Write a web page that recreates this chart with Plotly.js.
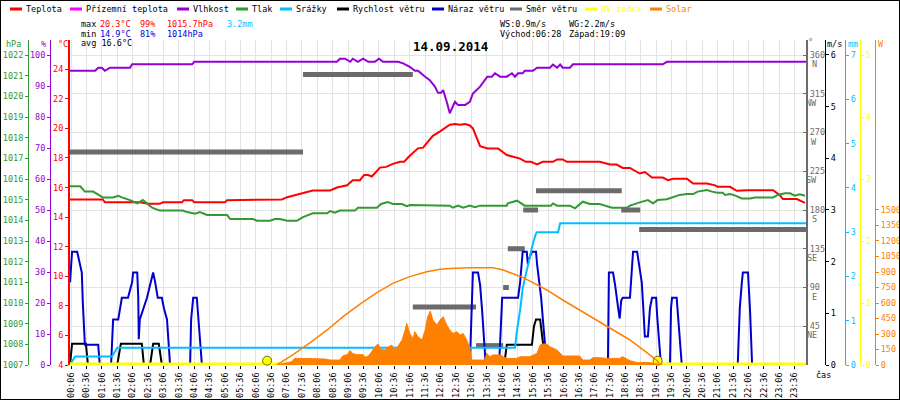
<!DOCTYPE html>
<html><head><meta charset="utf-8">
<script src="https://cdn.plot.ly/plotly-3.0.1.min.js"></script>
<style>html,body{margin:0;padding:0;background:#fff}#chart{width:900px;height:400px}</style>
</head><body><div id="chart"></div>
<script>
const DAY = '2014-09-14 ';

// Teplota (°C)
const tempTimes = ['00:04','01:08','01:12','02:20','02:36','02:59','03:05','03:42','03:46','04:02','04:06','05:06','05:10','06:28','06:34','06:57','07:07','07:32','07:46','07:57','08:31','08:44','09:04','09:15','09:29','09:37','09:45','09:52','10:08','10:20','10:33','10:47','10:55','11:06','11:22','11:32','11:39','11:51','12:05','12:18','12:24','12:34','12:44','12:54','13:03','13:09','13:23','13:38','13:58','14:15','14:41','14:52','15:02','15:14','15:25','15:45','15:53','16:04','16:12','17:16','17:36','17:49','18:01','18:15','18:34','18:44','18:58','19:19','19:29','19:39','20:06','20:18','20:45','21:01','21:06','21:30','21:43','22:03','22:54','23:07','23:13','23:40','23:56'];
const tempValues = [15.2,15.2,15.0,15.0,14.9,14.9,15.0,15.0,15.15,15.15,15.0,15.0,15.15,15.15,15.2,15.2,15.35,15.6,15.7,15.8,15.8,16.0,16.15,16.5,16.5,16.85,16.85,16.75,17.35,17.4,17.6,17.75,17.75,18.15,18.65,18.7,19.0,19.5,19.8,20.15,20.25,20.3,20.25,20.3,20.2,20.0,18.8,18.64,18.64,18.2,17.96,17.74,17.74,17.56,17.74,17.74,17.9,17.9,17.74,17.74,17.56,17.56,17.33,17.33,16.95,17.05,16.68,16.68,16.5,16.6,16.6,16.27,16.27,16.15,16.05,16.05,15.78,15.82,15.82,15.49,15.22,15.22,14.97];

// Vlhkost (%)
const humTimes = ['00:04','00:53','00:59','01:06','01:12','01:22','02:01','02:05','04:02','04:06','08:44','08:50','09:00','09:10','09:15','09:25','09:35','09:45','09:58','10:06','10:14','10:43','10:53','11:06','11:16','11:22','11:36','11:45','11:55','12:01','12:07','12:11','12:18','12:24','12:34','12:40','12:54','13:03','13:09','13:23','13:37','13:46','13:52','14:02','14:15','14:25','14:31','14:37','14:46','14:50','15:06','15:14','15:39','15:45','15:53','15:59','16:04','16:18','16:24','19:19','19:27','23:58'];
const humValues = [94.9,94.9,95.9,95.9,94.9,95.9,95.9,97.0,97.0,97.8,97.8,98.8,98.8,97.8,98.8,97.8,98.8,97.8,97.8,98.8,97.8,97.8,97.3,96.2,94.9,94.9,93.0,91.9,89.8,87.8,87.8,88.7,84.9,81.2,84.9,83.9,83.9,84.9,87.6,89.8,93.0,93.0,94.1,93.0,93.0,94.1,93.0,94.1,94.1,94.9,94.9,95.9,95.9,96.9,95.9,96.9,95.9,95.9,97.0,97.0,97.8,97.8];

// Tlak (hPa)
const presTimes = ['00:04','00:24','00:33','00:49','00:59','01:08','01:28','01:38','01:45','02:01','02:15','02:26','02:34','02:44','02:59','03:44','03:52','04:08','04:17','04:31','05:10','05:16','06:01','06:08','06:34','06:43','06:53','07:07','07:26','07:38','07:57','08:25','08:31','08:40','08:50','09:19','09:25','10:02','10:10','10:23','10:33','10:51','11:00','11:06','12:24','12:30','12:40','12:50','13:03','13:13','13:23','14:15','14:17','14:35','14:50','15:41','15:45','15:53','16:18','16:28','16:43','16:57','17:16','17:26','17:40','18:09','18:15','18:34','18:50','19:00','19:09','19:27','19:39','19:52','20:06','20:18','20:27','20:45','20:55','21:05','21:16','21:20','21:30','21:39','21:53','22:09','22:18','22:54','23:03','23:17','23:27','23:36','23:46','23:56'];
const presValues = [1015.65,1015.65,1015.39,1015.39,1015.24,1015.11,1015.11,1015.19,1015.11,1014.98,1014.82,1014.98,1014.82,1014.61,1014.47,1014.47,1014.40,1014.32,1014.40,1014.26,1014.26,1014.06,1014.06,1013.98,1013.98,1014.06,1014.06,1013.98,1013.98,1014.16,1014.34,1014.34,1014.45,1014.37,1014.47,1014.47,1014.61,1014.61,1014.79,1014.89,1014.79,1014.79,1014.69,1014.74,1014.71,1014.61,1014.71,1014.61,1014.71,1014.63,1014.71,1014.71,1014.82,1014.95,1014.71,1014.71,1014.82,1014.71,1014.71,1014.58,1014.90,1014.79,1014.79,1014.71,1014.61,1014.61,1014.71,1014.87,1014.98,1014.82,1014.98,1015.02,1015.11,1015.23,1015.27,1015.27,1015.39,1015.47,1015.39,1015.34,1015.34,1015.23,1015.27,1015.21,1015.06,1015.06,1015.11,1015.11,1015.23,1015.31,1015.31,1015.19,1015.26,1015.19];

// Srážky (mm, cumulative)
const rainTimes = ['00:04','00:10','00:14','01:26','01:30','01:34','01:36','14:31','14:35','14:41','14:46','14:54','15:00','15:06','15:12','15:14','15:55','15:59','23:58'];
const rainValues = [0,0.1,0.19,0.19,0.26,0.34,0.39,0.39,0.79,1.24,1.73,2.14,2.45,2.75,2.97,3.0,3.0,3.2,3.2];

// Rychlost větru (m/s)
const speedTimes = ['00:04','00:06','00:08','00:35','00:37','00:39','01:36','01:40','01:43','02:24','02:26','02:28','02:40','02:43','02:46','02:57','03:00','03:03','14:10','14:12','14:15','15:04','15:06','15:08','15:12','15:20','15:24','15:26','15:29','15:32','15:35','23:58'];
const speedValues = [0,0.2,0.41,0.41,0.2,0,0,0.2,0.41,0.41,0.2,0,0,0.25,0.41,0.41,0.2,0,0,0.2,0.39,0.39,0.55,0.75,0.88,0.88,0.55,0.4,0.3,0.2,0,0];

// Náraz větru (m/s)
const gustTimes = ['00:04','00:08','00:18','00:22','00:27','00:29','00:33','00:59','01:02','01:24','01:28','01:38','01:41','01:45','01:57','02:01','02:05','02:07','02:15','02:17','02:18','02:20','02:26','02:34','02:40','02:46','02:50','02:54','02:55','03:03','03:07','03:13','03:15','03:19','03:58','04:00','04:04','04:11','04:13','04:16','04:21','13:03','13:06','13:09','13:19','13:23','13:27','13:30','13:34','14:00','14:04','14:06','14:37','14:41','14:46','14:54','14:56','15:00','15:04','15:12','15:14','15:18','15:22','15:26','15:29','15:33','17:32','17:34','17:42','17:46','17:52','17:55','17:58','18:01','18:15','18:19','18:21','18:29','18:33','18:38','18:41','18:44','18:50','18:54','18:58','19:06','19:08','19:12','19:15','19:19','19:33','19:35','19:37','19:46','19:48','19:52','19:56','21:45','21:49','21:53','21:55','22:05','22:09','22:13','23:58'];
const gustValues = [1.6,2.19,2.19,1.99,1.79,1.2,0.39,0.39,0,0,0.88,0.88,1.05,1.3,1.3,1.45,1.6,1.79,1.79,1.3,0.5,0.88,1.05,1.3,1.55,1.79,1.6,1.4,1.3,1.3,1.1,0.88,0.6,0,0,0.88,1.3,1.3,1.05,0.65,0,0,0.88,1.79,1.79,1.55,1.05,0.65,0,0,0.88,1.3,1.3,1.6,2.19,2.19,1.95,2.1,2.19,2.19,1.95,1.6,1.3,0.8,0.5,0,0,1.79,1.79,1.55,1.1,0.9,1.25,1.3,1.3,1.79,2.19,2.19,1.95,1.6,1.1,0.55,0.55,1.1,1.3,1.3,0.95,0.5,0.05,0,0,1.1,1.3,1.3,1.05,0.5,0,0,1.1,1.6,1.79,1.79,1.05,0,0];

// Směr větru (°) – constant periods
const dirStart = ['00:04','07:38','11:12','13:15','14:08','14:17','14:47','15:12','17:58','18:33'];
const dirEnd   = ['07:38','11:12','13:15','14:08','14:19','14:50','15:16','17:59','18:35','23:58'];
const dirValues = [247.5,337.5,67.5,22.5,90,135,180,202.5,180,157.5];

// UV index
const uvTimes = ['00:04','23:58'];
const uvValues = [0,0];
const sunTimes = ['06:28','19:09'];   // Východ / Západ
const sunMarkValues = [0.07,0.07];

// Solar (W/m2) measured
const solarTimes = ['06:47','07:03','07:16','07:22','07:52','08:01','08:21','08:31','08:50','08:56','09:04','09:10','09:15','09:23','09:35','09:39','09:45','09:52','09:58','10:04','10:10','10:18','10:23','10:31','10:37','10:43','10:51','10:57','11:00','11:06','11:12','11:16','11:22','11:30','11:36','11:41','11:46','11:51','11:59','12:05','12:11','12:18','12:24','12:30','12:38','12:44','12:50','12:57','13:03','13:07','13:32','13:36','13:42','13:48','14:02','14:08','14:15','14:35','14:41','15:00','15:14','15:20','15:25','15:33','15:39','15:53','16:04','16:37','16:43','16:57','17:03','17:16','17:30','17:55','18:01','18:15','18:29','18:54','19:08','19:19'];
const solarValues = [0,15,32,65,65,58,58,48,48,90,100,139,110,100,100,75,85,130,177,203,150,145,170,193,145,180,242,339,403,306,258,322,274,242,339,468,522,435,387,435,468,387,339,306,322,290,306,242,161,48,48,113,80,97,97,80,64,64,80,80,113,193,203,203,177,145,87,87,48,48,71,71,64,64,80,42,23,23,6,0];
// Solar clear-sky curve
const clearTimes = ['06:47','07:18','07:52','08:25','08:56','09:29','10:02','10:33','11:06','11:39','12:05','12:24','13:03','13:48','14:08','14:27','14:46','15:06','15:33','16:04','16:37','17:10','17:42','18:15','18:48','19:08','19:13'];
const clearValues = [0,97,216,339,468,590,700,790,855,903,926,935,942,942,919,887,848,797,726,629,532,435,339,242,119,42,0];

// X tick labels
const xTickLabels = ['00:06','00:36','01:06','01:36','02:06','02:36','03:06','03:36','04:06','04:36','05:06','05:36','06:06','06:36','07:06','07:36','08:06','08:36','09:06','09:36','10:06','10:36','11:06','11:36','12:06','12:36','13:06','13:36','14:06','14:36','15:06','15:36','16:06','16:36','17:06','17:36','18:06','18:36','19:06','19:36','20:06','20:36','21:06','21:36','22:06','22:36','23:06','23:36'];
const dirTickVals = [45,90,135,180,225,270,315,360];
const dirTickNames = ['NE','E','SE','S','SW','W','NW','N'];

// legend
const legendNames = ['Teplota','Přízemní teplota','Vlhkost','Tlak','Srážky','Rychlost větru','Náraz větru','Směr větru','UV index','Solar'];
const legendColors = ['#ff0000','#ff00ff','#9400d3','#339933','#00bfff','#000000','#0000cc','#6b6b6b','#ffff00','#ff8000'];
const legendX = [10,70,177,236,280,337,432,510,585,650];

const MONO = 'DejaVu Sans Mono';
const FS = 8.5;
const PW = 900, PH = 400;
const fx = v => v / PW;
const fy = v => 1 - v / PH;
const t = a => a.map(s => DAY + s);

const C = {temp:'#ff0000', hum:'#9400d3', pres:'#339933', rain:'#00bfff', speed:'#000000', gust:'#0000cc', dir:'#6b6b6b', uv:'#ffff00', solar:'#ff8000'};

// wind direction segments
const dirX = [], dirY = [];
dirStart.forEach((s, i) => { dirX.push(DAY + s, DAY + dirEnd[i], null); dirY.push(dirValues[i], dirValues[i], null); });

const traces = [
  {x:t(solarTimes), y:solarValues, yaxis:'y8', type:'scatter', mode:'lines', fill:'tozeroy', fillcolor:C.solar, line:{color:C.solar, width:1}},
  {x:t(clearTimes), y:clearValues, yaxis:'y8', type:'scatter', mode:'lines', line:{color:C.solar, width:1.5}},
  {x:t(rainTimes), y:rainValues, yaxis:'y6', type:'scatter', mode:'lines', line:{color:C.rain, width:2}},
  {x:dirX, y:dirY, yaxis:'y4', type:'scatter', mode:'lines', connectgaps:false, line:{color:C.dir, width:5}},
  {x:t(presTimes), y:presValues, yaxis:'y3', type:'scatter', mode:'lines', line:{color:C.pres, width:2}},
  {x:t(humTimes), y:humValues, yaxis:'y2', type:'scatter', mode:'lines', line:{color:C.hum, width:2}},
  {x:t(tempTimes), y:tempValues, yaxis:'y', type:'scatter', mode:'lines', line:{color:C.temp, width:2}},
  {x:t(speedTimes), y:speedValues, yaxis:'y5', type:'scatter', mode:'lines', line:{color:C.speed, width:2}},
  {x:t(gustTimes), y:gustValues, yaxis:'y5', type:'scatter', mode:'lines', line:{color:C.gust, width:2}},
  {x:t(uvTimes), y:uvValues, yaxis:'y7', type:'scatter', mode:'lines', line:{color:C.uv, width:5}},
  {x:t(sunTimes), y:sunMarkValues, yaxis:'y7', type:'scatter', mode:'markers', cliponaxis:false, marker:{size:9, color:C.uv, line:{color:'#6b6b00', width:1}}}
];
traces.forEach(tr => { tr.showlegend = false; tr.hoverinfo = 'skip'; });

const XD = [fx(70), fx(806)];
const YD = [fy(365), fy(40)];
const yBase = (color, extra) => Object.assign({
  color: color, linecolor: color, showline: true, linewidth: 1, ticks: 'outside', ticklen: 3, tickwidth: 1, tickcolor: color,
  showgrid: false, zeroline: false, fixedrange: true, tickfont:{family:MONO, size:FS, color:color}
}, extra);

const layout = {
  width: PW, height: PH,
  margin: {l:0, r:0, t:0, b:0, pad:0},
  paper_bgcolor: '#fff', plot_bgcolor: '#fff',
  font: {family: MONO, size: FS, color: '#000'},
  showlegend: false,
  xaxis: {
    type:'date', domain: XD, range:[DAY+'00:04', DAY+'23:58'],
    tickvals: t(xTickLabels), ticktext: xTickLabels, tickangle: -90,
    ticks:'outside', ticklen:3, tickcolor:'#000', showline:false, zeroline:false,
    showgrid:true, gridcolor:'#e3e3e3', gridwidth:1, fixedrange:true,
    tickfont:{family:MONO, size:FS, color:'#000'}
  },
  yaxis: yBase(C.temp, {domain: YD, range:[4, 25.98], tickvals:[4,6,8,10,12,14,16,18,20,22,24], side:'left', linewidth:2}),
  yaxis2: yBase(C.hum, {overlaying:'y', anchor:'free', position: fx(50), side:'left', range:[0, 104.84], tickvals:[0,10,20,30,40,50,60,70,80,90,100]}),
  yaxis3: yBase(C.pres, {overlaying:'y', anchor:'free', position: fx(28), side:'left', range:[1007, 1022.726], dtick:1, tick0:1007}),
  yaxis4: yBase(C.dir, {overlaying:'y', anchor:'x', side:'right', range:[0, 377.42], tickvals: dirTickVals, ticks:'inside', linewidth:2,
                        showgrid:true, gridcolor:'#e3e3e3', gridwidth:1}),
  yaxis5: yBase('#000000', {overlaying:'y', anchor:'free', position: fx(825), side:'right', range:[0, 6.29], dtick:1, tick0:0}),
  yaxis6: yBase(C.rain, {overlaying:'y', anchor:'free', position: fx(845), side:'right', range:[0, 7.339], dtick:1, tick0:0}),
  yaxis7: yBase(C.uv, {overlaying:'y', anchor:'free', position: fx(860), side:'right', range:[0, 5.242], dtick:1, tick0:0}),
  yaxis8: yBase(C.solar, {overlaying:'y', anchor:'free', position: fx(875), side:'right', range:[0, 3145], tickvals:[0,150,300,450,600,750,900,1050,1200,1350,1500]}),
  shapes: [], annotations: []
};

const A = (x, y, text, color, extra) => Object.assign({
  xref:'paper', yref:'paper', x: fx(x), y: fy(y), text: text, showarrow:false,
  xanchor:'left', yanchor:'middle', font:{family:MONO, size:FS, color: color || '#000'}, borderpad:0
}, extra || {});

// legend
legendNames.forEach((n, i) => {
  layout.shapes.push({type:'line', xref:'paper', yref:'paper', x0: fx(legendX[i]), x1: fx(legendX[i] + 12), y0: fy(9), y1: fy(9), line:{color: legendColors[i], width:3}});
  const tc = (i === 8) ? '#ffff00' : (i === 9 ? '#ff8000' : '#000');
  layout.annotations.push(A(legendX[i] + 15, 9, n, tc));
});

// stats text
layout.annotations.push(
  A(80, 24, 'max'), A(99, 24, '20.3°C', '#ff0000'), A(139, 24, '99%', '#ff0000'), A(166, 24, '1015.7hPa', '#ff0000'), A(226, 24, '3.2mm', '#00bfff'),
  A(80, 34, 'min'), A(99, 34, '14.9°C', '#0000dd'), A(139, 34, '81%', '#0000dd'), A(166, 34, '1014hPa', '#0000dd'),
  A(80, 43, 'avg 16.6°C'),
  A(499, 24, 'WS:0.9m/s'), A(568, 24, 'WG:2.2m/s'),
  A(499, 34, 'Východ:06:28'), A(568, 34, 'Západ:19:09'),
  A(450, 46, '<b>14.09.2014</b>', '#000', {xanchor:'center', font:{family:MONO, size:12.5, color:'#000'}}),
  // axis titles
  A(5, 44, 'hPa', C.pres), A(40, 44, '%', C.hum), A(57, 44, '°C', C.temp),
  A(807, 42, '°', C.dir), A(826, 44, 'm/s', '#000'), A(847, 44, 'mm', C.rain), A(877, 44, 'W', C.solar),
  A(815, 375, 'čas', '#000')
);
// compass names under direction ticks
dirTickVals.forEach((v, i) => {
  layout.annotations.push({xref:'paper', yref:'y4', x: fx(818), y: v, yshift:-9, text: dirTickNames[i], showarrow:false,
    xanchor:'right', yanchor:'middle', font:{family:MONO, size:FS, color:C.dir}, borderpad:0});
});
// frame
layout.shapes.push({type:'rect', xref:'paper', yref:'paper', x0:0, x1:1, y0:0, y1:1, line:{color:'#000', width:2}});

Plotly.newPlot('chart', traces, layout, {displayModeBar:false, staticPlot:true});
</script>
</body></html>
